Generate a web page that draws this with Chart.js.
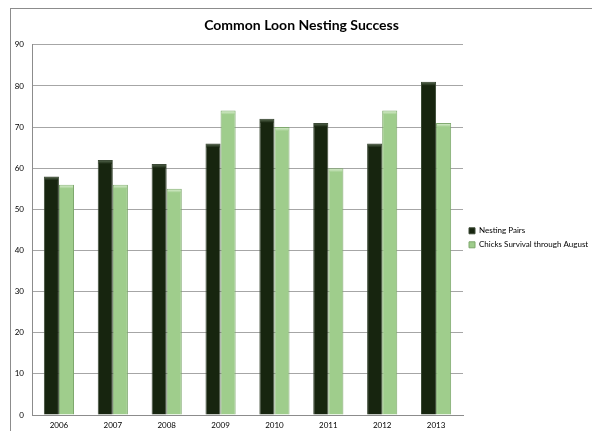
<!DOCTYPE html>
<html>
<head>
<meta charset="utf-8">
<script src="https://cdn.jsdelivr.net/npm/chart.js@4/dist/chart.umd.min.js"></script>
<style>
  html, body { margin: 0; padding: 0; background: #fff; }
  #frame {
    position: absolute; left: 10px; top: 8px;
    width: 582px; height: 423px;
    border-top: 1px solid #8c8c8c; border-left: 1px solid #8c8c8c;
  }
  #graficoBarras { display: block; }
</style>
</head>
<body>
<div id="frame"><canvas id="graficoBarras" width="581" height="422"></canvas></div>
<script>
const anos = ["2006", "2007", "2008", "2009", "2010", "2011", "2012", "2013"];
const nestingPairs = [58, 62, 61, 66, 72, 71, 66, 81];
const chicksSurvival = [56, 56, 55, 74, 70, 60, 74, 71];

// brilho no topo das barras (efeito "chanfrado" do Excel)
const capPlugin = {
    id: "cap",
    afterDatasetsDraw(chart) {
        const ctx = chart.ctx;
        chart.data.datasets.forEach((ds, i) => {
            const meta = chart.getDatasetMeta(i);
            meta.data.forEach((bar) => {
                const w = bar.width;
                const x0 = bar.x - w / 2;
                const g = ctx.createLinearGradient(0, bar.y, 0, bar.y + 4);
                g.addColorStop(0, ds.capColor);
                g.addColorStop(1, ds.backgroundColor);
                ctx.save();
                ctx.fillStyle = g;
                ctx.fillRect(x0 + 1, bar.y + 1, w - 2, 3);
                ctx.restore();
            });
        });
    },
};

// largura fixa da legenda, para a área do gráfico terminar onde termina no original
const legendaLargura = {
    id: "legendaLargura",
    beforeUpdate(chart) {
        const lg = chart.legend;
        if (lg && !lg._fixo) {
            const fitOriginal = lg.fit.bind(lg);
            lg.fit = function () {
                fitOriginal();
                this.width = 129;
            };
            lg._fixo = true;
        }
    },
};

new Chart(document.getElementById("graficoBarras").getContext("2d"), {
    type: "bar",
    data: {
        labels: anos,
        datasets: [
            {
                label: "Nesting Pairs",
                data: nestingPairs,
                backgroundColor: "#17250f",
                borderColor: "#3c4a36",
                capColor: "#5c6e55",
                borderWidth: 1,
            },
            {
                label: "Chicks Survival through August",
                data: chicksSurvival,
                backgroundColor: "#9fcd8c",
                borderColor: "#7ea86d",
                capColor: "#e4f3dc",
                borderWidth: 1,
            },
        ],
    },
    options: {
        responsive: false,
        animation: false,
        layout: { padding: 0 },
        datasets: {
            bar: { categoryPercentage: 0.56, barPercentage: 1.0 },
        },
        scales: {
            x: {
                grid: { display: false, drawTicks: false },
                border: { display: true, color: "#8c8c8c" },
                ticks: { color: "#000", font: { family: "Lato", size: 8 }, padding: 6 },
                afterFit(s) { s.height = 16; },
            },
            y: {
                min: 0,
                max: 90,
                ticks: { stepSize: 10, color: "#000", font: { family: "Lato", size: 8 }, padding: 8 },
                grid: { color: "#a6a6a6", drawTicks: false },
                border: { display: true, color: "#8c8c8c" },
                afterFit(s) { s.width = 21; },
            },
        },
        plugins: {
            title: {
                display: true,
                text: "Common Loon Nesting Success",
                color: "#000",
                font: { family: "Lato", size: 14, weight: "bold" },
                padding: { top: 8, bottom: 11 },
            },
            legend: {
                display: true,
                position: "right",
                title: {
                    display: true,
                    text: " ",
                    font: { family: "Lato", size: 8 },
                    padding: { top: 13, bottom: 13 },
                },
                labels: {
                    boxWidth: 6,
                    boxHeight: 6,
                    padding: 6,
                    color: "#000",
                    font: { family: "Lato", size: 8 },
                },
            },
            tooltip: { enabled: false },
        },
    },
    plugins: [capPlugin, legendaLargura],
});
</script>
</body>
</html>
